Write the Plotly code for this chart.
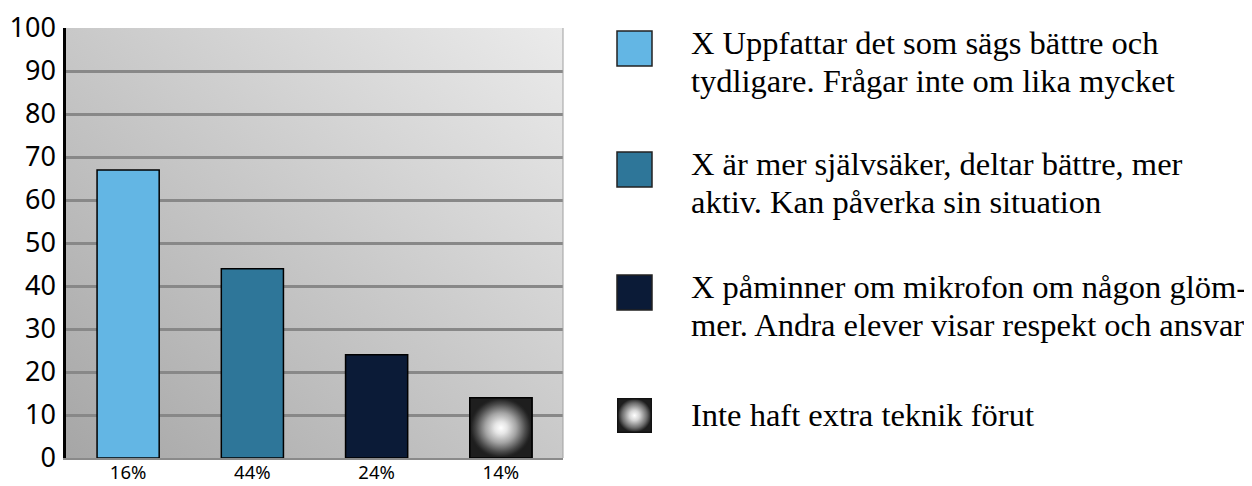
import base64
import plotly.graph_objects as go

# ---- data ----
categories = ["16%", "44%", "24%", "14%"]
values = [67, 44, 24, 14]
bar_colors = ["#63b6e4", "#2e7699", "#0b1b37", "#1e1e1e"]
legend_lines = [
    ["X Uppfattar det som sägs bättre och", "tydligare. Frågar inte om lika mycket"],
    ["X är mer självsäker, deltar bättre, mer", "aktiv. Kan påverka sin situation"],
    ["X påminner om mikrofon om någon glöm-", "mer. Andra elever visar respekt och ansvar"],
    ["Inte haft extra teknik förut"],
]
y_ticks = [0, 10, 20, 30, 40, 50, 60, 70, 80, 90, 100]

# ---- layout constants (pixels, in page coordinates) ----
OFF = 8                      # default body margin of the html page
W, H = 1252 - OFF, 486 - OFF
L, R, T, B = 66 - OFF, 563 - OFF, 28 - OFF, 458 - OFF
BAR_W = 0.5


def px_x(p):
    return (p - OFF - L) / (R - L)


def px_y(p):
    return (B - (p - OFF)) / (B - T)


def svg_uri(svg):
    return "data:image/svg+xml;base64," + base64.b64encode(svg.encode()).decode()


bg_svg = (
    "<svg xmlns='http://www.w3.org/2000/svg' width='100' height='100' viewBox='0 0 100 100' "
    "preserveAspectRatio='none'><defs><linearGradient id='g' x1='0' y1='1' x2='1' y2='0'>"
    "<stop offset='0' stop-color='#a6a6a6'/><stop offset='1' stop-color='#ebebeb'/>"
    "</linearGradient></defs><rect width='100' height='100' fill='url(#g)'/></svg>"
)
radial_svg = (
    "<svg xmlns='http://www.w3.org/2000/svg' width='100' height='100' viewBox='0 0 100 100' "
    "preserveAspectRatio='none'><defs><radialGradient id='r' cx='0.5' cy='0.5' r='0.5'>"
    "<stop offset='0' stop-color='#ffffff'/><stop offset='0.3' stop-color='#d6d6d6'/>"
    "<stop offset='0.75' stop-color='#6a6a6a'/><stop offset='1' stop-color='#1e1e1e'/>"
    "</radialGradient></defs><rect x='2' y='2' width='96' height='96' fill='url(#r)' "
    "stroke='#111' stroke-width='4'/></svg>"
)

xs = list(range(len(categories)))

fig = go.Figure()
fig.add_trace(go.Bar(
    x=xs, y=values, width=BAR_W,
    marker=dict(color=bar_colors, line=dict(color="#000000", width=1.5)),
    showlegend=False, hoverinfo="skip",
))

# radial-gradient overlay for the last bar
i = 3
v = values[i]
fig.add_trace(go.Scatter(
    x=[xs[i] - BAR_W / 2, xs[i] + BAR_W / 2, xs[i] + BAR_W / 2, xs[i] - BAR_W / 2, xs[i] - BAR_W / 2],
    y=[0, 0, v, v, 0],
    mode="lines", fill="toself",
    fillgradient=dict(type="radial", colorscale=[
        [0, "#ffffff"], [0.2, "#e6e6e6"], [0.5, "#a4a4a4"], [0.8, "#4a4a4a"], [0.95, "#242424"],
        [1, "#1e1e1e"]]),
    line=dict(color="#000000", width=1.5),
    showlegend=False, hoverinfo="skip",
))

shapes = [
    dict(type="line", xref="paper", yref="paper", x0=1, x1=1, y0=0, y1=1,
         line=dict(color="#a0a0a0", width=1)),
]
images = [
    dict(source=svg_uri(bg_svg), xref="paper", yref="paper", x=0, y=1, sizex=1, sizey=1,
         sizing="stretch", xanchor="left", yanchor="top", layer="below"),
]
annotations = []

sq_tops = [31, 152, 275, 398]
SQ = 35
LINE_GAP = 38
for k, lines in enumerate(legend_lines):
    top = sq_tops[k]
    if k < 3:
        shapes.append(dict(type="rect", xref="paper", yref="paper",
                           x0=px_x(617), x1=px_x(617 + SQ), y0=px_y(top + SQ), y1=px_y(top),
                           fillcolor=bar_colors[k], line=dict(color="#222222", width=1.5)))
    else:
        images.append(dict(source=svg_uri(radial_svg), xref="paper", yref="paper",
                           x=px_x(617), y=px_y(top), sizex=SQ / (R - L), sizey=SQ / (B - T),
                           sizing="stretch", xanchor="left", yanchor="top", layer="above"))
    first = top + 11.5 if len(lines) > 1 else top + 17
    for j, line in enumerate(lines):
        annotations.append(dict(
            text=line, xref="paper", yref="paper", x=px_x(689), y=px_y(first + j * LINE_GAP),
            xanchor="left", yanchor="middle", align="left", showarrow=False,
            font=dict(family="Liberation Serif", size=32.5, color="#000000"),
        ))

fig.update_layout(
    width=W, height=H,
    margin=dict(l=L, r=W - R, t=T, b=H - B, pad=0, autoexpand=False),
    paper_bgcolor="#ffffff",
    plot_bgcolor="rgba(0,0,0,0)",
    shapes=shapes, images=images, annotations=annotations,
    bargap=0.5,
)
fig.update_xaxes(
    range=[-0.5, 3.5], tickvals=xs, ticktext=categories, automargin=False,
    showgrid=False, zeroline=False, showline=True, linecolor="#8a8a8a", linewidth=2,
    ticks="", tickfont=dict(family="Noto Sans", size=18.5, color="#000000"),
    ticklabelstandoff=-3, fixedrange=True,
)
fig.update_yaxes(
    range=[0, 100], tickvals=y_ticks, ticktext=[str(t) for t in y_ticks], automargin=False,
    showgrid=True, gridcolor="#888888", gridwidth=2.5, zeroline=False,
    showline=True, linecolor="#000000", linewidth=2.5,
    ticks="", tickfont=dict(family="Noto Sans", size=27, color="#000000"),
    ticklabelstandoff=2, fixedrange=True,
)

fig.write_html("out.html")
